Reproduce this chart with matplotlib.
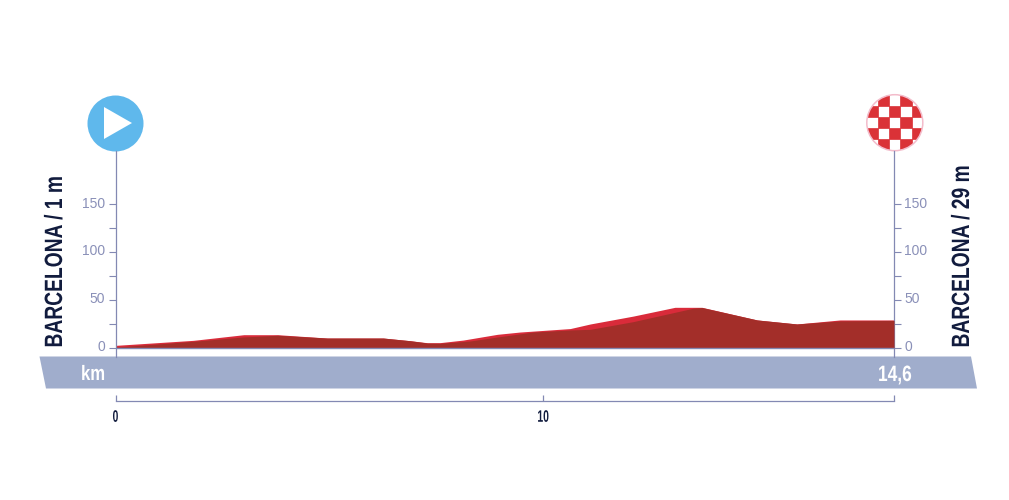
"""Stage profile: Barcelona - Barcelona, 14,6 km."""
import matplotlib
matplotlib.use("Agg")
import matplotlib.pyplot as plt
from matplotlib.patches import Circle, Polygon, Rectangle
from matplotlib.patheffects import AbstractPathEffect
from matplotlib.transforms import Affine2D, ScaledTranslation

W, H = 1009, 500
FONT = "Liberation Sans"

# road profile, the lighter top edge and the darker front face
top_km = [0.02, 1.82, 3.0, 3.79, 4.95, 6.26, 6.89, 7.29, 7.59, 8.13, 8.93, 9.46,
          10.63, 11.1, 12.1, 13.08, 13.71, 15.0, 15.93, 16.94, 18.2]
top_m = [2.5, 7.7, 13.6, 13.6, 10.1, 10.1, 7.3, 5.2, 5.3, 8, 14, 16.4,
         20, 24.8, 33, 42.2, 42.2, 29, 24.8, 29, 29]
front_km = [0.02, 1.82, 2.98, 3.79, 4.95, 6.26, 6.89, 7.29, 7.59, 8.29, 8.93, 9.77,
            10.63, 11.1, 12.1, 13.5, 13.71, 15.0, 15.93, 16.94, 18.2]
front_m = [0.7, 6.7, 11.2, 13, 10.1, 10.1, 7.3, 4.9, 4.6, 7, 11.2, 16.4,
           18.5, 19.2, 27.2, 41.2, 42, 29, 24.8, 28, 28.5]

y_major = [0, 50, 100, 150]
y_minor = [25, 75, 125]
x_ticks = [0, 10]
x_labels = ["0", "10"]
x_end = 18.2
start_label = "BARCELONA / 1 m"
finish_label = "BARCELONA / 29 m"
km_label = "km"
dist_label = "14,6"

AXIS = "#8389B3"
LABEL = "#8A90B8"
NAVY = "#121C3E"
BAND = "#A0ADCC"


class Squeeze(AbstractPathEffect):
    """Narrow a text along its baseline, no condensed font is installed."""

    def __init__(self, sx):
        super().__init__()
        self.sx = sx

    def draw_path(self, renderer, gc, tpath, affine, rgbFace=None):
        renderer.draw_path(gc, tpath, Affine2D().scale(self.sx, 1) + affine, rgbFace)


fig = plt.figure(figsize=(W / 100, H / 100), dpi=100)

# overlay in pixel coordinates for band and start/finish badges
bg = fig.add_axes([0, 0, 1, 1])
bg.set_xlim(0, W)
bg.set_ylim(H, 0)
bg.axis("off")
bg.add_patch(Polygon([(39.5, 356.5), (971, 356.5), (977, 388.5), (46, 388.5)],
                     color=BAND, lw=0))

left, right, top, bottom = 115.5, 894, 151, 357
ax = fig.add_axes([left / W, 1 - bottom / H, (right - left) / W, (bottom - top) / H])
ax.patch.set_alpha(0)
ax.set_xlim(0, x_end)
ax.set_ylim(-9.7, 205.5)
ax.fill_between(top_km, top_m, color="#D92B3A", lw=0, zorder=2)
ax.fill_between(front_km, front_m, color="#A32E29", lw=0, zorder=3)
ax.axhline(0, color=AXIS, lw=1, zorder=4)

ax.spines["top"].set_visible(False)
for s in ("left", "right", "bottom"):
    ax.spines[s].set_color(AXIS)
    ax.spines[s].set_linewidth(0.9)
ax.spines["bottom"].set_position(("outward", 32))

ax.set_yticks(y_major)
ax.set_yticks(y_minor, minor=True)
ax.tick_params(axis="y", which="both", left=True, right=True, labelleft=True,
               labelright=True, length=5, width=0.8, color=AXIS, labelcolor=LABEL,
               labelsize=10, pad=2.5)
nudge = ScaledTranslation(0, 1.5 / 72, fig.dpi_scale_trans)
for tick in ax.yaxis.get_major_ticks():
    for lab in (tick.label1, tick.label2):
        lab.set_fontfamily(FONT)
        lab.set_transform(lab.get_transform() + nudge)

ax.set_xticks(x_ticks + [x_end])
ax.set_xticklabels(["", "", ""])
ax.tick_params(axis="x", direction="in", length=4.5, width=0.9, color=AXIS)
for km, lab in zip(x_ticks, x_labels):
    # squeeze anchors at the left, so start half a text width before the tick
    ax.annotate(lab, (km, 0), xycoords=("data", "axes fraction"),
                xytext=(-2.1 * len(lab), -38), textcoords="offset points",
                ha="left", va="top", color=NAVY, fontsize=12, fontweight="bold",
                family=FONT, path_effects=[Squeeze(0.62)])

# start and finish badges
bg.add_patch(Circle((115.5, 123.5), 28, color="#5FB8EC", lw=0))
bg.add_patch(Polygon([(104, 107), (104, 139), (132, 123)], color="white", lw=0))

cx, cy, r, step = 894.8, 122.7, 28, 11.15
clip = Circle((cx, cy), r, transform=bg.transData)
for row in range(5):
    for col in range(5):
        if (row + col) % 2:
            sq = Rectangle((cx - 2.5 * step + col * step, cy - 2.5 * step + row * step),
                           step, step, fc="#DA3237", ec="#DA3237", lw=0.5)
            bg.add_patch(sq)
            sq.set_clip_path(clip)
bg.add_patch(Circle((cx, cy), r, fill=False, ec="#F3BCCB", lw=1.1))

label_kw = dict(rotation=90, rotation_mode="anchor", color=NAVY, fontsize=18,
                fontweight="bold", family=FONT, ha="left", va="baseline",
                path_effects=[Squeeze(0.77)])
bg.text(62, 347.5, start_label, **label_kw)
bg.text(969, 347.5, finish_label, **label_kw)

band_kw = dict(color="white", fontweight="bold", family=FONT, ha="left", va="baseline")
bg.text(81, 380, km_label, fontsize=15, path_effects=[Squeeze(0.8)], **band_kw)
bg.text(878, 381, dist_label, fontsize=16, path_effects=[Squeeze(0.78)], **band_kw)

fig.savefig("out.png", dpi=100)
